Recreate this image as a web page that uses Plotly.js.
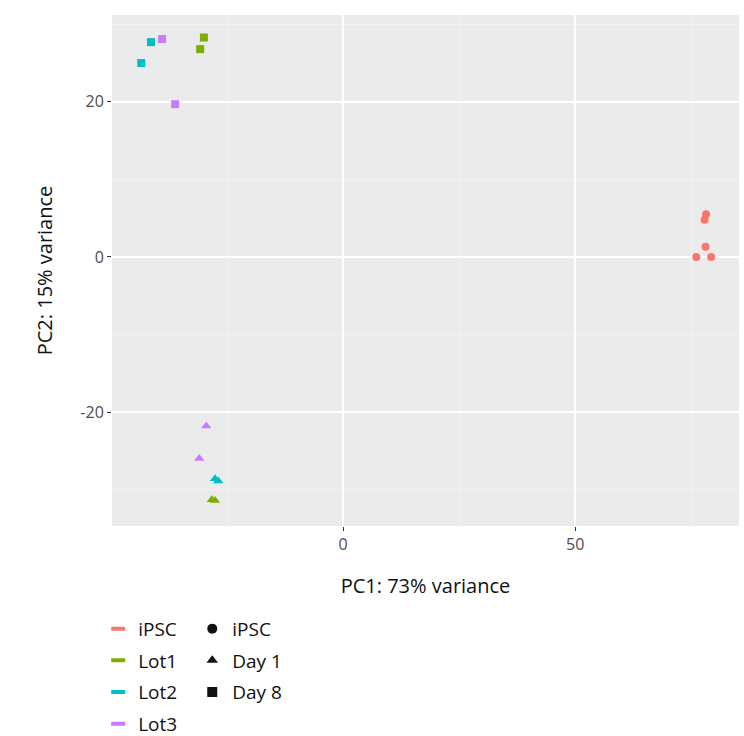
<!DOCTYPE html>
<html>
<head>
<meta charset="utf-8">
<script src="https://cdn.plot.ly/plotly-3.0.1.min.js"></script>
<style>html,body{margin:0;padding:0;background:#fff;}#chart{width:744px;height:736px;}</style>
</head>
<body>
<div id="chart"></div>
<script>
// Sample data
const groups = ["iPSC","iPSC","iPSC","iPSC","iPSC",
                "Lot1","Lot1","Lot1","Lot1",
                "Lot2","Lot2","Lot2","Lot2",
                "Lot3","Lot3","Lot3","Lot3"];
const stages = ["iPSC","iPSC","iPSC","iPSC","iPSC",
                "Day 1","Day 1","Day 8","Day 8",
                "Day 1","Day 1","Day 8","Day 8",
                "Day 1","Day 1","Day 8","Day 8"];
const pc1 = [78.2, 77.9, 78.1, 76.1, 79.3,
             -28.3, -27.6, -30.0, -30.8,
             -27.6, -26.9, -43.5, -41.4,
             -29.5, -31.0, -39.0, -36.2];
const pc2 = [5.5, 4.8, 1.3, 0.0, 0.0,
             -31.3, -31.4, 28.3, 26.8,
             -28.6, -28.9, 25.0, 27.7,
             -21.8, -26.0, 28.1, 19.7];
const groupNames = ["iPSC","Lot1","Lot2","Lot3"];
const stageNames = ["iPSC","Day 1","Day 8"];
const xTicks = [0, 50];
const yTicks = [-20, 0, 20];

const groupColors = {"iPSC":"#F8766D","Lot1":"#7CAE00","Lot2":"#00BFC4","Lot3":"#C77CFF"};
const stageSymbols = {"iPSC":"circle","Day 1":"triangle-up","Day 8":"square"};
const stageSizes = {"iPSC":8,"Day 1":9,"Day 8":8};

const traces = [];
groupNames.forEach(g => {
  stageNames.forEach(s => {
    const xs = [], ys = [];
    for (let i = 0; i < pc1.length; i++) {
      if (groups[i] === g && stages[i] === s) { xs.push(pc1[i]); ys.push(pc2[i]); }
    }
    if (xs.length) {
      traces.push({x: xs, y: ys, type: "scatter", mode: "markers", showlegend: false,
        marker: {color: groupColors[g], symbol: stageSymbols[s], size: stageSizes[s], line: {width: 0}},
        hoverinfo: "x+y"});
    }
  });
});
// colour legend (short line keys)
groupNames.forEach(g => {
  traces.push({x: [null], y: [null], type: "scatter", mode: "markers", name: g, legend: "legend",
    legendgroup: "c_" + g,
    marker: {color: groupColors[g], symbol: "line-ew-open", size: 10, line: {color: groupColors[g], width: 4}}});
});
// shape legend
stageNames.forEach(s => {
  traces.push({x: [null], y: [null], type: "scatter", mode: "markers", name: s, legend: "legend2",
    legendgroup: "s_" + s,
    marker: {color: "#111111", symbol: stageSymbols[s], size: 10}});
});

const font = "'Open Sans', sans-serif";
const layout = {
  width: 744, height: 736,
  margin: {l: 112, r: 5, t: 15, b: 210, autoexpand: false},
  paper_bgcolor: "#ffffff",
  plot_bgcolor: "#EBEBEB",
  font: {family: font, color: "#222", size: 16},
  xaxis: {
    range: [-49.8, 85.3], tickvals: xTicks, ticktext: xTicks.map(String),
    showgrid: true, gridcolor: "#ffffff", gridwidth: 1.5, zeroline: false,
    ticks: "outside", ticklen: 4, tickcolor: "#333", tickwidth: 1,
    tickfont: {size: 16, color: "#4d4d4d", family: font},
    minor: {tickvals: [-25, 25, 75], showgrid: true, gridcolor: "#F5F5F5", gridwidth: 0.8, ticks: ""},
    showline: false, automargin: false,
    title: {text: "PC1: 73% variance", font: {size: 20, color: "#111", family: font}, standoff: 24}
  },
  yaxis: {
    range: [-34.7, 31.2], tickvals: yTicks, ticktext: yTicks.map(String),
    showgrid: true, gridcolor: "#ffffff", gridwidth: 1.5, zeroline: false,
    ticks: "outside", ticklen: 4, tickcolor: "#333", tickwidth: 1,
    tickfont: {size: 16, color: "#4d4d4d", family: font},
    minor: {tickvals: [-30, -10, 10, 30], showgrid: true, gridcolor: "#F5F5F5", gridwidth: 0.8, ticks: ""},
    showline: false, automargin: false,
    title: {text: "PC2: 15% variance", font: {size: 20, color: "#111", family: font}, standoff: 22}
  },
  legend: {
    x: -0.022, xanchor: "left", y: -0.164, yanchor: "top", orientation: "v",
    font: {size: 19, color: "#111", family: font}, bgcolor: "rgba(0,0,0,0)",
    itemwidth: 30, tracegroupgap: 4, traceorder: "grouped"
  },
  legend2: {
    x: 0.128, xanchor: "left", y: -0.164, yanchor: "top", orientation: "v",
    font: {size: 19, color: "#111", family: font}, bgcolor: "rgba(0,0,0,0)",
    itemwidth: 30, tracegroupgap: 4, traceorder: "grouped"
  },
  showlegend: true
};

Plotly.newPlot("chart", traces, layout, {displayModeBar: false, staticPlot: true});
</script>
</body>
</html>
